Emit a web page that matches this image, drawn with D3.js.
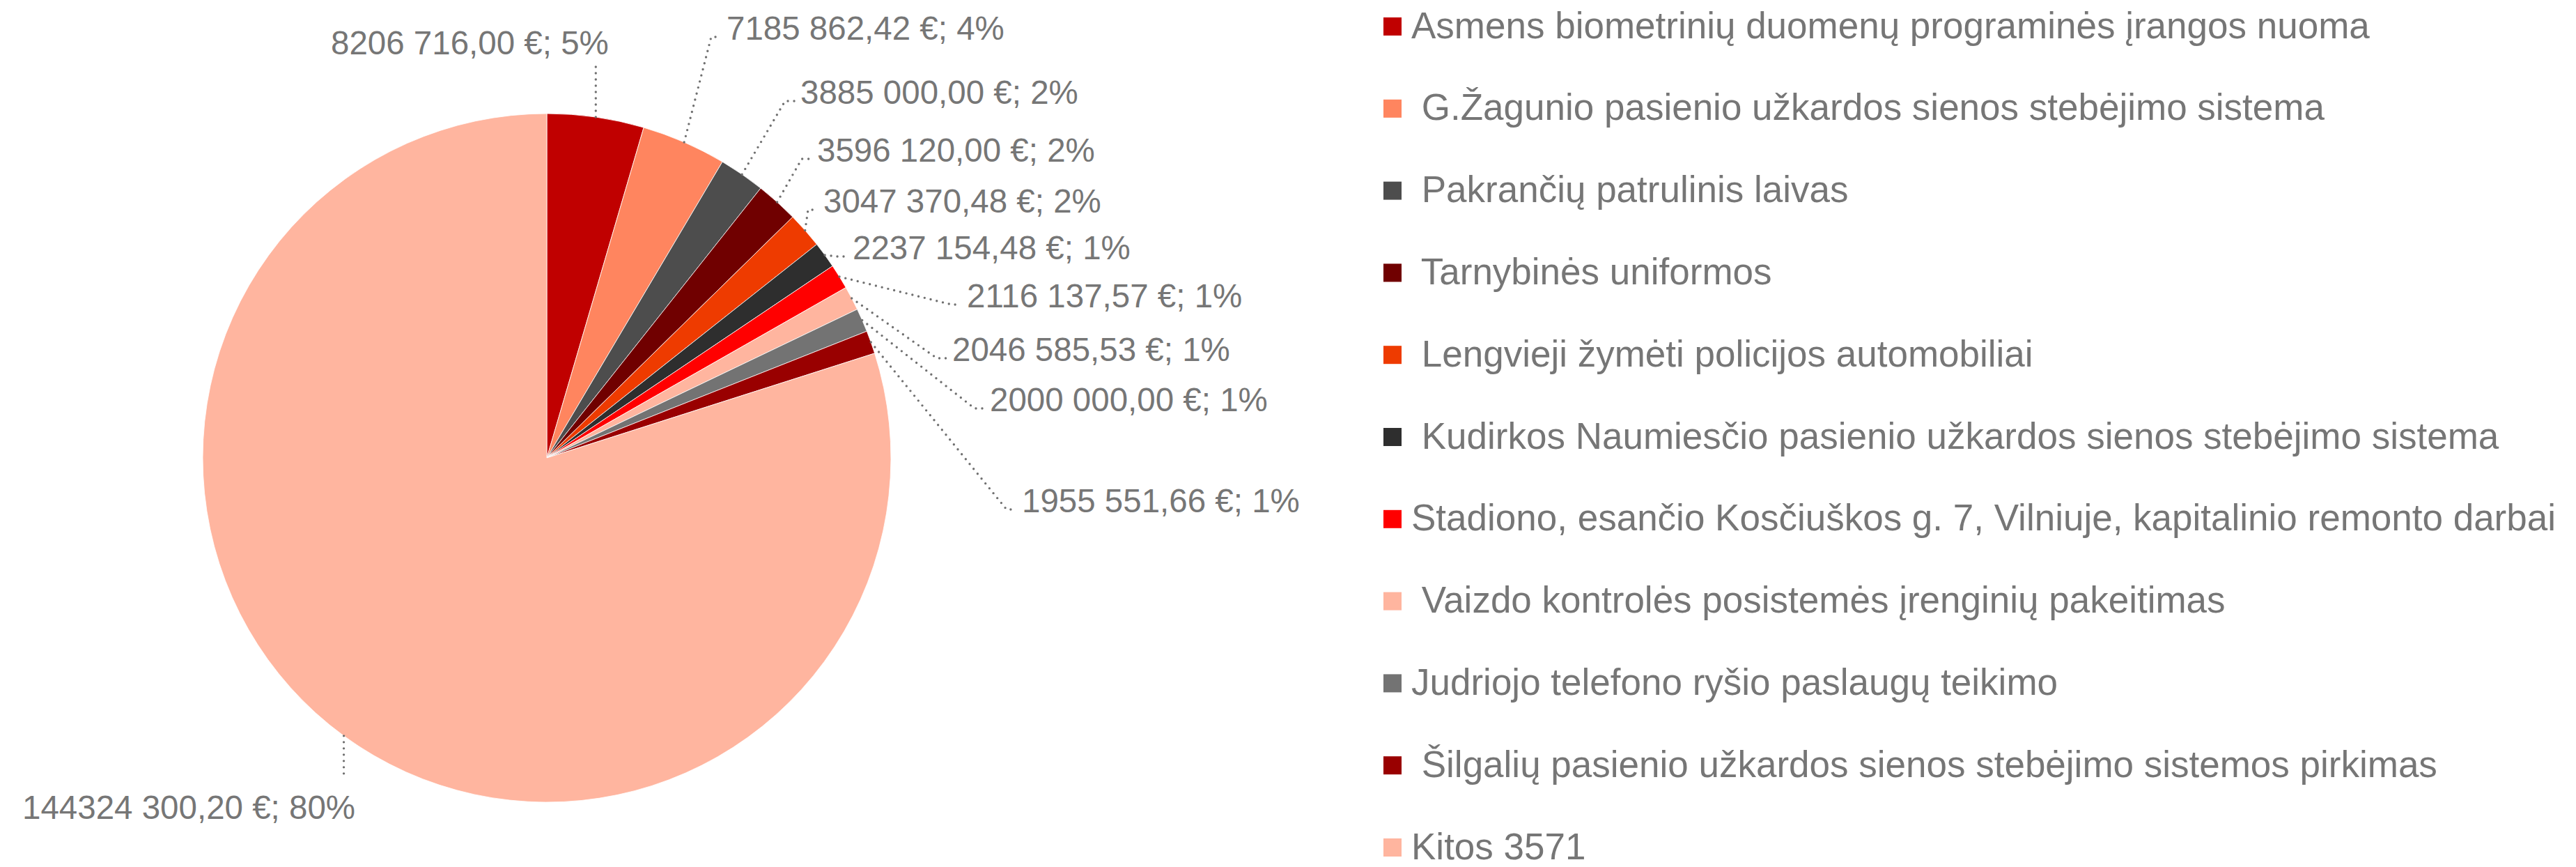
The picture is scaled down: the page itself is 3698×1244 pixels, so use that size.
<!DOCTYPE html>
<html>
<head>
<meta charset="utf-8">
<script src="https://cdn.jsdelivr.net/npm/d3@7"></script>
<style>
  body { margin: 0; background: #fff; }
  text { font-family: "Liberation Sans", Arial, sans-serif; fill: #767676; white-space: pre; }
</style>
</head>
<body>
<svg id="chart"></svg>
<script>
//  categories (leading spaces are as in the original legend)
const categories = [
  "Asmens biometrinių duomenų programinės įrangos nuoma",
  " G.Žagunio pasienio užkardos sienos stebėjimo sistema",
  " Pakrančių patrulinis laivas",
  " Tarnybinės uniformos",
  " Lengvieji žymėti policijos automobiliai",
  " Kudirkos Naumiesčio pasienio užkardos sienos stebėjimo sistema",
  "Stadiono, esančio Kosčiuškos g. 7, Vilniuje, kapitalinio remonto darbai",
  " Vaizdo kontrolės posistemės įrenginių pakeitimas",
  "Judriojo telefono ryšio paslaugų teikimo",
  " Šilgalių pasienio užkardos sienos stebėjimo sistemos pirkimas",
  "Kitos 3571"
];

//  amounts in EUR
const values = [
  8206716.00, 7185862.42, 3885000.00, 3596120.00, 3047370.48,
  2237154.48, 2116137.57, 2046585.53, 2000000.00, 1955551.66,
  144324300.20
];

const colors = [
  "#C00000", "#FF855F", "#4D4D4D", "#700000", "#EE3B00",
  "#2E2E2E", "#FF0000", "#FFB59F", "#737373", "#990000",
  "#FFB59F"
];

//  label placement relative to pie centre: [dx, dy, leader kind]
const labelLayout = [
  [-310, -579, "top"], [258, -600, "side"], [364, -508, "side"],
  [388, -425, "side"], [397, -352, "side"], [439, -285, "side"],
  [603, -216, "side"], [582, -139, "side"], [636, -67, "side"],
  [682, 78, "side"], [-753, 518, "bottom"]
];

const w = 3698
const h = 1244
const cx = 785
const cy = 657
const r = 494

const total = d3.sum(values);

//  "144324 300,20 €" style: only the last thousands group is split
function fmt_eur(v) {
  const s = v.toFixed(2).split(".");
  const ip = s[0];
  const head = ip.length > 3 ? ip.slice(0, ip.length - 3) + " " : "";
  return head + ip.slice(-3) + "," + s[1] + " €";
}

const svg = d3.select("#chart").attr("width", w).attr("height", h)

const data = values.map((v, i) => ({ name: categories[i], value: v, color: colors[i], idx: i }));

const pie = d3.pie().sort(null).value(d => d.value).startAngle(0).endAngle(2 * Math.PI);
const arcs = pie(data);
const arc = d3.arc().innerRadius(0).outerRadius(r);

const g = svg.append("g").attr("transform", `translate(${cx},${cy})`);

//  draw slices
g.selectAll("path.slice")
  .data(arcs).enter().append("path")
  .attr("class", "slice")
  .attr("d", arc)
  .attr("fill", d => d.data.color)
  .attr("stroke", "#fff")
  .attr("stroke-width", 0.8);

//  leader lines and labels
arcs.forEach((d, i) => {
  const mid = (d.startAngle + d.endAngle) / 2;
  const ex = r * Math.sin(mid);
  const ey = -r * Math.cos(mid);
  const lay = labelLayout[i];
  const tx = lay[0], ty = lay[1];
  let pts;
  if (lay[2] == "top")
    pts = [[ex, ey], [ex, ty + 11]];
  else if (lay[2] == "bottom")
    pts = [[ex, ey], [ex, ty - 57]];
  else
    pts = [[ex, ey], [tx - 22, ty - 4], [tx - 8, ty - 4]];

  g.append("path")
    .attr("d", d3.line()(pts))
    .attr("fill", "none")
    .attr("stroke", "#707070")
    .attr("stroke-width", 3.4)
    .attr("stroke-linecap", "round")
    .attr("stroke-dasharray", "0 9");

  const pct = Math.round(d.data.value / total * 100);
  g.append("text")
    .attr("x", tx)
    .attr("y", ty)
    .style("font-size", "47.5px")
    .text(fmt_eur(d.data.value) + "; " + pct + "%");
});

//  legend
const ly = d3.scalePoint().domain(d3.range(categories.length)).range([38, 1216]);
const legend = svg.append("g");

legend.selectAll("rect")
  .data(data).enter().append("rect")
  .attr("x", 1986)
  .attr("y", d => ly(d.idx) - 13)
  .attr("width", 26)
  .attr("height", 26)
  .attr("fill", d => d.color);

legend.selectAll("text")
  .data(data).enter().append("text")
  .attr("x", 2026)
  .attr("y", d => ly(d.idx) + 16.5)
  .style("font-size", "53px")
  .text(d => d.name);
</script>
</body>
</html>
